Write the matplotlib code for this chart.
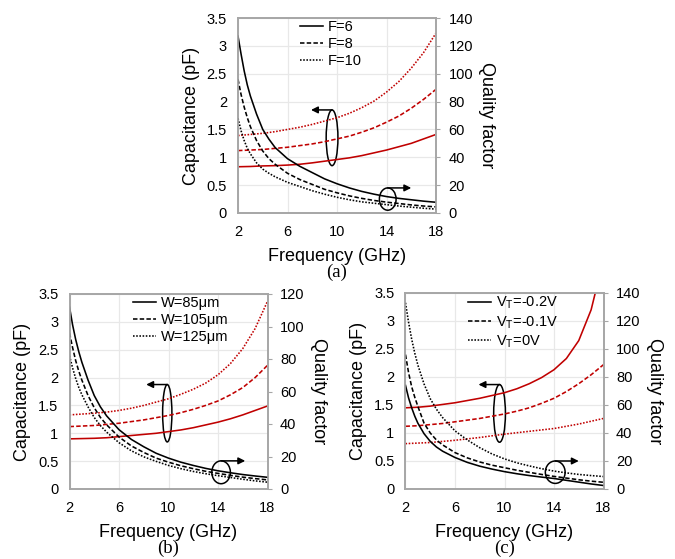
import matplotlib.pyplot as plt
import numpy as np
from matplotlib.patches import Ellipse

plt.rcParams['font.family'] = ['Liberation Sans', 'DejaVu Sans']
plt.rcParams['mathtext.default'] = 'regular'

freq_c = list(range(2, 19))
freq_q = [2, 2.25, 2.5, 2.75, 3, 3.5, 4, 4.5, 5, 6, 7, 8, 9, 10, 11, 12, 13, 14, 15, 16, 17, 18]
freq_ticks = [2, 6, 10, 14, 18]

# (a) number of fingers
labels_a = ['F=6', 'F=8', 'F=10']
cap_a = [[0.83, 0.835, 0.845, 0.85, 0.86, 0.875, 0.90, 0.93, 0.96, 0.99, 1.03, 1.08, 1.13, 1.19, 1.25, 1.33, 1.41],
         [1.12, 1.13, 1.14, 1.16, 1.18, 1.21, 1.24, 1.28, 1.33, 1.38, 1.45, 1.53, 1.63, 1.74, 1.88, 2.04, 2.22],
         [1.39, 1.41, 1.43, 1.46, 1.50, 1.54, 1.59, 1.65, 1.71, 1.79, 1.89, 2.01, 2.17, 2.36, 2.60, 2.88, 3.23]]
q_a = [[127, 114, 102, 92, 84, 71, 60, 53, 47, 39, 33.5, 29, 24.5, 21, 18, 15.5, 13.5, 11.8, 10.5, 9.5, 8.5, 7.7],
       [96, 85, 76, 68.5, 62, 52, 44.5, 39, 35, 28.5, 24, 20.5, 17, 14.5, 12.3, 10.5, 9, 7.8, 6.8, 5.8, 5, 4.4],
       [68, 59, 52, 46.5, 42.5, 36, 31.5, 28.5, 26, 22, 19, 16, 13.5, 11.3, 9.5, 8, 7, 6, 5, 4.2, 3.4, 2.8]]

# (b) finger width
labels_b = ['W=85μm', 'W=105μm', 'W=125μm']
cap_b = [[0.90, 0.905, 0.91, 0.92, 0.94, 0.96, 0.98, 1.00, 1.03, 1.06, 1.10, 1.15, 1.20, 1.26, 1.33, 1.41, 1.49],
         [1.12, 1.13, 1.14, 1.16, 1.18, 1.21, 1.24, 1.28, 1.32, 1.37, 1.43, 1.50, 1.58, 1.69, 1.82, 2.00, 2.22],
         [1.33, 1.345, 1.36, 1.38, 1.41, 1.45, 1.50, 1.56, 1.62, 1.70, 1.79, 1.90, 2.05, 2.25, 2.52, 2.88, 3.37]]
q_b = [[112, 101, 92, 84.5, 78, 67, 57.5, 50.5, 45, 36.5, 30.5, 26, 22, 19, 16.5, 14.5, 12.7, 11.2, 10, 8.9, 8, 7.2],
       [96, 87, 79, 72.5, 67, 57.5, 50, 44, 39.5, 32, 26.5, 22.5, 19, 16.5, 14.3, 12.5, 10.9, 9.6, 8.4, 7.3, 6.4, 5.6],
       [82, 74.5, 68, 62.5, 58, 50.5, 44, 39, 35, 28.5, 23.5, 19.8, 17, 14.5, 12.5, 10.8, 9.4, 8.2, 7.1, 6, 5, 4.2]]

# (c) tuning voltage
labels_c = ['V$_T$=-0.2V', 'V$_T$=-0.1V', 'V$_T$=0V']
cap_c = [[1.45, 1.46, 1.48, 1.51, 1.54, 1.58, 1.62, 1.67, 1.72, 1.79, 1.88, 1.99, 2.13, 2.33, 2.65, 3.20, 4.10],
         [1.12, 1.13, 1.15, 1.17, 1.20, 1.23, 1.26, 1.30, 1.34, 1.39, 1.45, 1.53, 1.62, 1.74, 1.88, 2.04, 2.22],
         [0.81, 0.82, 0.83, 0.85, 0.87, 0.895, 0.92, 0.95, 0.98, 1.005, 1.03, 1.055, 1.08, 1.12, 1.16, 1.21, 1.26]]
q_c = [[74, 65, 58, 52, 47, 39.5, 34, 30, 27, 22.5, 19, 16.3, 14.2, 12.4, 10.9, 9.6, 8.5, 7.5, 6.2, 4.9, 3.6, 2.5],
       [96, 83, 73, 65.5, 59, 47, 40, 35, 31.5, 26, 22.2, 19.3, 17, 15.2, 13.4, 11.9, 10.4, 9, 7.8, 6.6, 5.6, 4.8],
       [133, 119, 107, 97, 88.5, 75, 64.5, 57, 51, 41.5, 35, 29.5, 25, 21.5, 18.7, 16.5, 14.5, 12.8, 11.5, 10.4, 9.6, 8.9]]

styles = ['-', (0, (2.8, 1.4)), (0, (1, 1))]
red = '#C00000'
spine = '#A6A6A6'


def make_panel(fig, rect, labels, cap, q, qmax, caption, leg_x, ell1, ell2):
    ax = fig.add_axes(rect)
    ax2 = ax.twinx()
    for i in range(3):
        ax.plot(freq_c, cap[i], color=red, ls=styles[i], lw=1.15)
        ax2.plot(freq_q, q[i], color='black', ls=styles[i], lw=1.15, label=labels[i])

    ax.set_xlim(2, 18)
    ax.set_ylim(0, 3.5)
    ax2.set_ylim(0, qmax)
    ax.set_xticks(freq_ticks)
    ax.set_yticks(np.arange(0, 3.51, 0.5))
    ax.set_yticklabels(['0', '0.5', '1', '1.5', '2', '2.5', '3', '3.5'])
    ax2.set_yticks(np.arange(0, qmax + 1, 20))
    ax.grid(True, color='#E8E8E8', lw=0.9)
    ax.set_axisbelow(True)
    for a in (ax, ax2):
        for s in a.spines.values():
            s.set_color(spine)
            s.set_linewidth(1.2)
    ax.tick_params(axis='both', length=0, labelsize=10.5)
    ax.tick_params(axis='x', pad=9)
    ax.tick_params(axis='y', pad=8)
    ax2.tick_params(axis='y', length=3, color=spine, labelsize=10.5, pad=6)

    ax.set_xlabel('Frequency (GHz)', fontsize=13, labelpad=6)
    ax.set_ylabel('Capacitance (pF)', fontsize=13, labelpad=5)
    ax2.set_ylabel('Quality factor', fontsize=13, rotation=270, labelpad=16)

    # ellipses grouping the curves, with arrows pointing to their axis
    for (cx, cy, w, h, tip) in (ell1, ell2):
        ax.add_patch(Ellipse((cx, cy), w, h, fill=False, ec='black', lw=1.1))
        ax.annotate('', xy=(tip, cy + h / 2), xytext=(cx, cy + h / 2),
                    arrowprops=dict(arrowstyle='-|>', color='black', lw=1.1,
                                    mutation_scale=10, shrinkA=0, shrinkB=0))

    ax2.legend(loc='upper left', bbox_to_anchor=(leg_x, 0.99), frameon=False,
               fontsize=10.5, handlelength=1.6, handletextpad=0.3,
               labelspacing=0.2, borderpad=0, borderaxespad=0)
    ax.text(0.5, -0.305, caption, transform=ax.transAxes, ha='center', va='center',
            fontsize=13.5, family='Liberation Serif')
    return ax


fig = plt.figure(figsize=(6.75, 5.59), dpi=100)
W, H = 675.0, 559.0
make_panel(fig, [238 / W, 1 - 213 / H, 198 / W, 195 / H], labels_a, cap_a, q_a, 140,
           '(a)', 0.313, (9.6, 1.35, 0.95, 1.0, 7.9), (14.1, 0.25, 1.35, 0.4, 16.0))
make_panel(fig, [69.5 / W, 1 - 489 / H, 198 / W, 195 / H], labels_b, cap_b, q_b, 120,
           '(b)', 0.32, (9.9, 1.36, 0.75, 1.03, 8.2), (14.25, 0.30, 1.5, 0.41, 16.2))
make_panel(fig, [405.5 / W, 1 - 489 / H, 198 / W, 196 / H], labels_c, cap_c, q_c, 140,
           '(c)', 0.316, (9.6, 1.35, 0.95, 1.03, 7.9), (14.1, 0.30, 1.6, 0.40, 16.0))

fig.savefig('out.png', dpi=100)
